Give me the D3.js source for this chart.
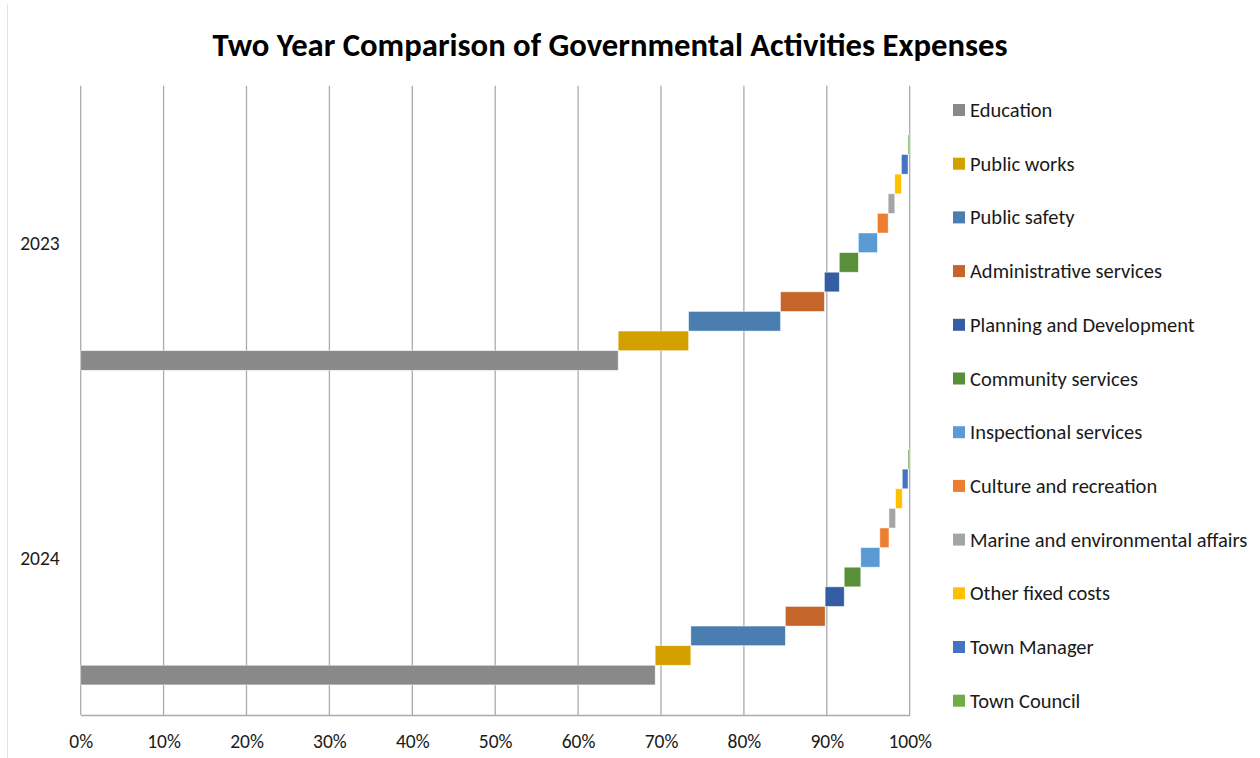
<!DOCTYPE html>
<html>
<head>
<meta charset="utf-8">
<script src="https://cdn.jsdelivr.net/npm/d3@7"></script>
<style>
  body { margin: 0; background: #fff; }
  svg text { font-family: Carlito, Calibri, Lato, sans-serif; fill: #1a1a1a; }
</style>
</head>
<body>
<div id="chart"></div>
<script>
// data (share of total, in %)
const years = ["2023", "2024"];
const categories = [
  "Education", "Public works", "Public safety", "Administrative services",
  "Planning and Development", "Community services", "Inspectional services",
  "Culture and recreation", "Marine and environmental affairs", "Other fixed costs",
  "Town Manager", "Town Council"
];
const colors = [
  "#898989", "#d4a000", "#4a7eb0", "#c4652a", "#345da3", "#5a8f3a",
  "#5b9bd5", "#ed7d31", "#a5a5a5", "#ffc000", "#4472c4", "#70ad47"
];
const values2023 = [64.9, 8.5, 11.1, 5.3, 1.8, 2.3, 2.3, 1.3, 0.8, 0.8, 0.8, 0.2];
const values2024 = [69.3, 4.3, 11.4, 4.8, 2.3, 2.0, 2.3, 1.1, 0.8, 0.8, 0.7, 0.2];
const tickValues = [0, 0.1, 0.2, 0.3, 0.4, 0.5, 0.6, 0.7, 0.8, 0.9, 1];

const width = 1260, height = 758;
const plot = { left: 80.7, right: 909.7, top: 85.8, bottom: 715 };

const rows = years.map((yr, i) => {
  const vals = i === 0 ? values2023 : values2024;
  const r = { year: yr };
  categories.forEach((c, j) => r[c] = vals[j]);
  return r;
});

const stack = d3.stack().keys(categories).offset(d3.stackOffsetExpand);
const layers = stack(rows);

const x = d3.scaleLinear().domain([0, 1]).range([plot.left, plot.right]);
const y = d3.scaleBand().domain(years).range([plot.top, plot.bottom]);
// each series sits in its own slot inside the year band
const ySeries = d3.scaleBand()
  .domain(categories.slice().reverse())
  .range([0, y.bandwidth()])
  .paddingOuter(2.02)
  .align(0.62);
const color = d3.scaleOrdinal().domain(categories).range(colors);

const svg = d3.select("#chart").append("svg")
  .attr("width", width)
  .attr("height", height);

// chart border (only left edge visible)
svg.append("line")
  .attr("x1", 7.5).attr("x2", 7.5)
  .attr("y1", 4).attr("y2", height)
  .attr("stroke", "#e3e3e3");

svg.append("text")
  .attr("x", 610)
  .attr("y", 56)
  .attr("text-anchor", "middle")
  .style("font-size", "32.7px")
  .style("font-weight", "bold")
  .style("fill", "#000")
  .text("Two Year Comparison of Governmental Activities Expenses");

// gridlines
svg.append("g")
  .selectAll("line")
  .data(tickValues)
  .join("line")
  .attr("x1", d => x(d)).attr("x2", d => x(d))
  .attr("y1", plot.top).attr("y2", plot.bottom)
  .attr("stroke", "#ababab")
  .attr("stroke-width", 1.3);

// bars
svg.append("g")
  .selectAll("g")
  .data(layers)
  .join("g")
  .attr("fill", d => color(d.key))
  .selectAll("rect")
  .data(d => d.map(p => ({ key: d.key, p })))
  .join("rect")
  .attr("x", d => x(d.p[0]))
  .attr("width", d => Math.max(0, x(d.p[1]) - x(d.p[0])))
  .attr("y", d => y(d.p.data.year) + ySeries(d.key))
  .attr("height", ySeries.bandwidth())
  .attr("stroke", "#fff")
  .attr("stroke-opacity", 0.6)
  .attr("stroke-width", 0.75);

// x axis
const xAxis = svg.append("g")
  .attr("transform", `translate(0,${plot.bottom})`)
  .call(d3.axisBottom(x).tickValues(tickValues).tickFormat(d3.format(".0%")).tickSize(0).tickPadding(19));
xAxis.select(".domain").attr("stroke", "#ababab").attr("stroke-width", 1.3);
xAxis.selectAll("text").style("font-size", "19.5px").attr("fill", "#1a1a1a");

// y axis labels
svg.append("g")
  .selectAll("text")
  .data(years)
  .join("text")
  .attr("x", 40)
  .attr("y", d => y(d) + y.bandwidth() / 2)
  .attr("text-anchor", "middle")
  .attr("dominant-baseline", "central")
  .style("font-size", "19.5px")
  .text(d => d);

// legend
const legend = svg.append("g")
  .selectAll("g")
  .data(categories)
  .join("g")
  .attr("transform", (d, i) => `translate(953,${110 + i * 53.7})`);

legend.append("rect")
  .attr("x", 0).attr("y", -6)
  .attr("width", 12).attr("height", 12)
  .attr("fill", d => color(d));

legend.append("text")
  .attr("x", 17)
  .attr("y", 0)
  .attr("dominant-baseline", "central")
  .style("font-size", "20.5px")
  .text(d => d);
</script>
</body>
</html>
